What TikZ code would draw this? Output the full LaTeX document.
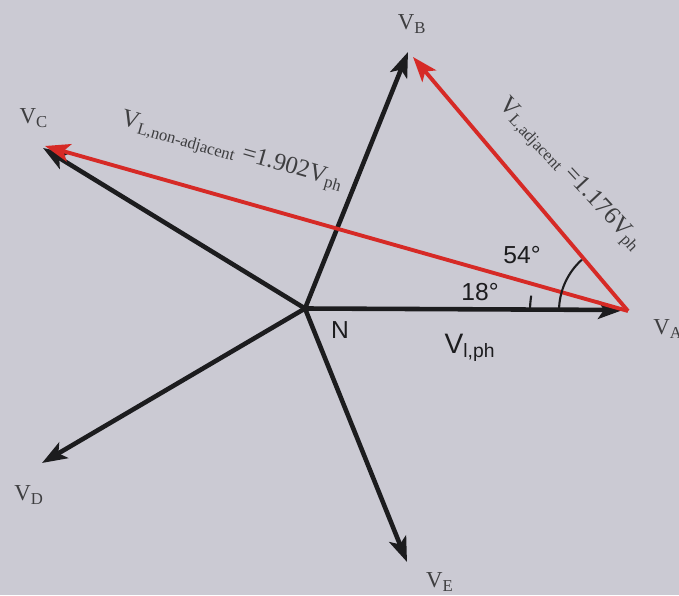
\documentclass[tikz,border=0pt]{standalone}
\usepackage{fontspec}
\setmainfont{Liberation Serif}
\setsansfont{Liberation Sans}
\usetikzlibrary{arrows.meta,calc,positioning}
\definecolor{paper}{RGB}{203,202,211}
\definecolor{linered}{RGB}{214,42,38}
\definecolor{ink}{RGB}{28,28,30}
\newcommand{\lsub}[1]{\textsubscript{\fontsize{9.5}{10}\selectfont #1}}
\tikzset{
  phasor/.style = {-{Stealth[length=5mm,width=3.6mm,inset=1.2mm]}, line width=2.6pt, ink},
  linev/.style  = {-{Stealth[length=5mm,width=3.6mm,inset=1.2mm]}, line width=2.2pt, linered},
  vlab/.style   = {font=\fontsize{13}{15}\selectfont, text=ink!85, inner sep=0pt},
  rlab/.style   = {font=\fontsize{14}{16}\selectfont, text=ink!85, inner sep=0pt},
  slab/.style   = {font=\sffamily\fontsize{14}{16}\selectfont, text=ink, inner sep=0pt},
  angarc/.style = {line width=1.2pt, ink},
}

\begin{document}
\begin{tikzpicture}[x=1cm,y=1cm]
  \fill[paper] (0,0) rectangle (13.58,11.9);
  \useasboundingbox (0,0) rectangle (13.58,11.9);
  % star point and phase tips
  \coordinate (N) at (6.10,5.73);
  \coordinate (A) at (12.46,5.70);
  \coordinate (B) at (8.16,10.86);
  \coordinate (C) at (0.86,8.94);
  \coordinate (D) at (0.84,2.64);
  \coordinate (E) at (8.14,0.66);
  % tips of the line voltages
  \coordinate (Ar) at (12.56,5.68);
  \coordinate (Br) at (8.26,10.76);
  \coordinate (Cr) at (0.90,8.98);
  \foreach \p in {A,B,C,D,E}{
    \draw[phasor] (N) -- (\p);}
  \draw[linev] (Ar) -- (Br);
  \draw[linev] (Ar) -- (Cr);
  % angle marks
  \draw[angarc] ($(Ar)+(-1.96,0)$) arc[start angle=180,end angle=171,radius=1.96];
  \draw[angarc] ($(Ar)+(-1.38,0)$) arc[start angle=180,end angle=132,radius=1.38];
  % labels
  \node[vlab,anchor=base west] (labA) at (13.06,5.2) {V\lsub{A}};
  \node[vlab] (labB) at (8.24,11.42) {V\lsub{B}};
  \node[vlab] (labC) at (0.68,9.54) {V\lsub{C}};
  \node[vlab] (labD) at (0.58,2.0) {V\lsub{D}};
  \node[vlab] (labE) at (8.8,0.26) {V\lsub{E}};
  \node[slab] (labN) at (6.8,5.3) {N};
  \node[slab,font=\sffamily\fontsize{16}{18}\selectfont] (labph) at (9.4,4.94) {V\textsubscript{\fontsize{11}{12}\selectfont l,ph}};
  \node[slab] (ang18) at (9.6,6.06) {18°};
  \node[slab] (ang54) at (10.44,6.8) {54°};
  \node[rlab,rotate=-16] (nonadj) at (4.64,8.86)
      {V\lsub{L,non-adjacent} =1.902V\lsub{ph}};
  \node[rlab,rotate=-47] (adj) at (11.4,8.4)
      {V\lsub{L,adjacent} =1.176V\lsub{ph}};
\end{tikzpicture}
\end{document}
